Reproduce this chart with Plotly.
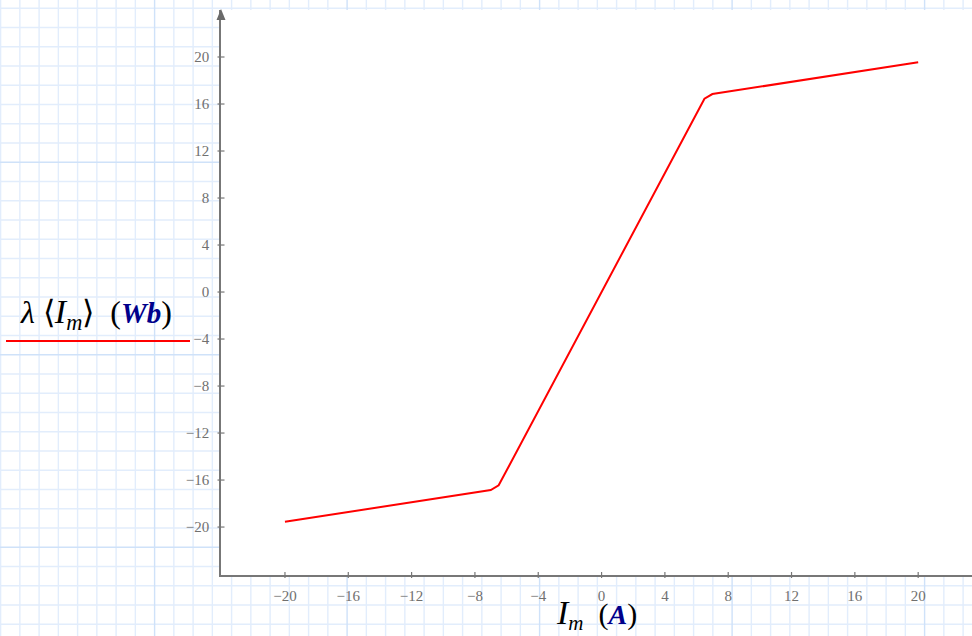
import plotly.graph_objects as go

# ---- data ----
current_a = [-20, -7, -6.5, 6.5, 7, 20]
flux_wb = [-19.55, -16.85, -16.45, 16.45, 16.85, 19.55]
x_ticks = [-20, -16, -12, -8, -4, 0, 4, 8, 12, 16, 20]
y_ticks = [-20, -16, -12, -8, -4, 0, 4, 8, 12, 16, 20]

W, H = 972, 636
ML, MR, MT, MB = 221, 0, 10, 61
PW, PH = W - ML - MR, H - MT - MB


def px(x):
    return (x - ML) / PW


def py(y):
    return (H - MB - y) / PH


AX = "#777777"
TICKC = "#707070"
BLUE = "#00008b"
SERIF = "Liberation Serif, Times New Roman, serif"

fig = go.Figure()
fig.add_trace(go.Scatter(x=current_a, y=flux_wb, mode="lines",
                         line=dict(color="#ff0000", width=2), showlegend=False,
                         hoverinfo="skip"))

shapes = []
# graph-paper background (outside plot area)
minor, major = [], []
step = 19.25
k = 0
while 0.6 + k * step < W:
    xv = 0.6 + k * step
    seg = f"M{px(xv)},{py(0)} L{px(xv)},{py(H)} "
    (major if k % 10 == 8 else minor).append(seg)
    k += 1
k = 0
while 8.3 + k * step < H:
    yv = 8.3 + k * step
    seg = f"M{px(0)},{py(yv)} L{px(W)},{py(yv)} "
    (major if k % 10 == 8 else minor).append(seg)
    k += 1
shapes.append(dict(type="path", xref="paper", yref="paper", path="".join(minor),
                   line=dict(color="#e2edfc", width=1.4), layer="below"))
shapes.append(dict(type="path", xref="paper", yref="paper", path="".join(major),
                   line=dict(color="#cfe2f9", width=1.4), layer="below"))
# white plotting area
shapes.append(dict(type="rect", xref="paper", yref="paper", x0=0, x1=1, y0=0, y1=1,
                   fillcolor="white", line=dict(width=0), layer="below"))
# crossing tick marks
for t in x_ticks:
    shapes.append(dict(type="line", xref="x", yref="paper", ysizemode="pixel", yanchor=0,
                       x0=t, x1=t, y0=-3, y1=3, line=dict(color=AX, width=1.2)))
for t in y_ticks:
    shapes.append(dict(type="line", yref="y", xref="paper", xsizemode="pixel", xanchor=0,
                       y0=t, y1=t, x0=-3.5, x1=3.5, line=dict(color=AX, width=1.2)))
# arrow head on y axis
shapes.append(dict(type="path", xref="paper", yref="paper", xsizemode="pixel", ysizemode="pixel",
                   xanchor=0, yanchor=1, path="M-4.5,-10 L4.5,-10 L0,1 Z",
                   fillcolor="#6a6a6a", line=dict(width=0)))
# legend key line
shapes.append(dict(type="line", xref="paper", yref="paper", x0=px(6), x1=px(190),
                   y0=py(341), y1=py(341), line=dict(color="#ff0000", width=2)))

annotations = [
    dict(xref="paper", yref="paper", x=px(96), y=py(314), xanchor="center", yanchor="middle",
         showarrow=False, font=dict(family=SERIF, size=32, color="black"),
         text=("<i>λ</i> ⟨<i><span style='font-size:34px'>I</span></i><sub><i>m</i></sub>⟩"
               "  (<b><i><span style='color:" + BLUE + ";font-size:29px'>Wb</span></i></b>)")),
    dict(xref="paper", yref="paper", x=px(596.5), y=py(614), xanchor="center", yanchor="middle",
         showarrow=False, font=dict(family=SERIF, size=30, color="black"),
         text=("<i><span style='font-size:34px'>I</span></i><sub><i>m</i></sub>"
               "  (<b><i><span style='color:" + BLUE + ";font-size:28px'>A</span></i></b>)")),
]

fig.update_layout(
    width=W, height=H,
    margin=dict(l=ML, r=MR, t=MT, b=MB, pad=0),
    paper_bgcolor="white", plot_bgcolor="white",
    shapes=shapes, annotations=annotations, showlegend=False,
    xaxis=dict(range=[-24.04, 23.4], tickvals=x_ticks, ticks="", showgrid=False,
               zeroline=False, showline=True, linecolor=AX, linewidth=1.5,
               tickfont=dict(family=SERIF, size=15, color=TICKC), ticklabelstandoff=6),
    yaxis=dict(range=[-24.08, 24.0], tickvals=y_ticks, ticks="", showgrid=False,
               zeroline=False, showline=True, linecolor=AX, linewidth=1.5,
               tickfont=dict(family=SERIF, size=15, color=TICKC), ticklabelstandoff=7),
)

fig.write_html("out.html", config={"displayModeBar": False},
               post_script="document.body.style.margin='0';document.body.style.overflow='hidden';")
